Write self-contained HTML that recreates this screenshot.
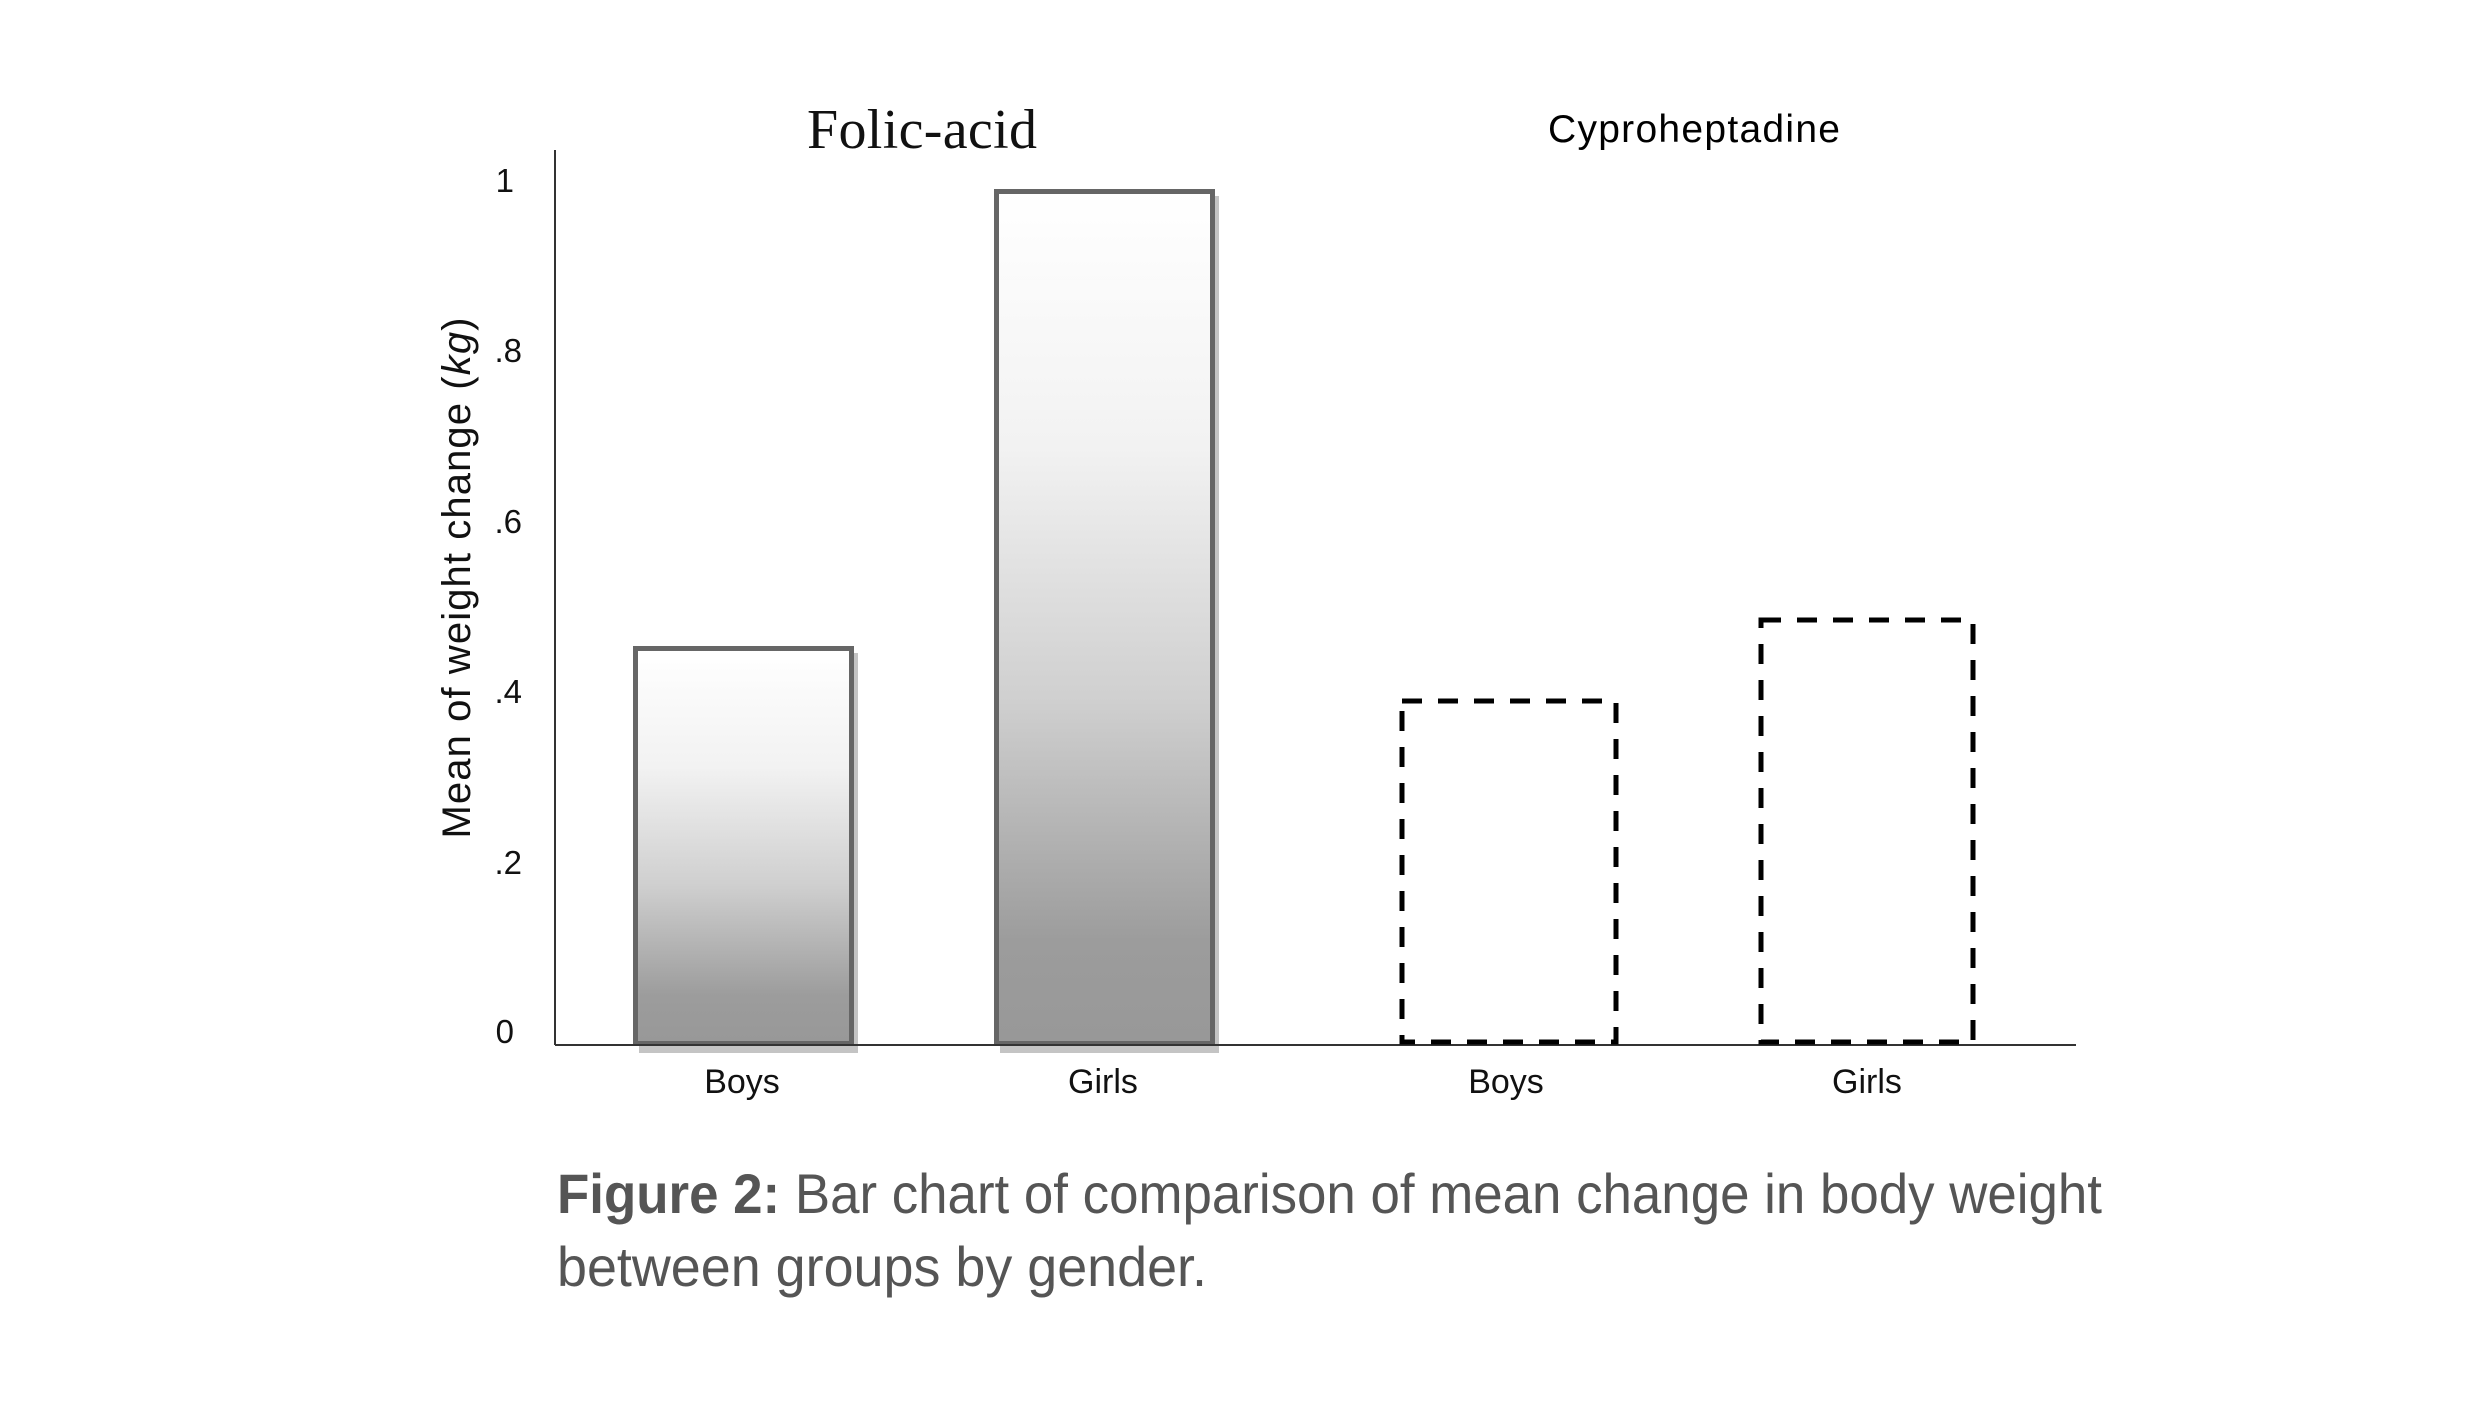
<!DOCTYPE html>
<html><head><meta charset="utf-8"><style>html,body{margin:0;padding:0;background:#fff;}svg{display:block}</style></head>
<body>
<svg width="2480" height="1417" viewBox="0 0 2480 1417" xmlns="http://www.w3.org/2000/svg">
<defs>
<linearGradient id="g" x1="0" y1="0" x2="0" y2="1">
<stop offset="0" stop-color="#ffffff"/>
<stop offset="0.3" stop-color="#f2f2f2"/>
<stop offset="0.6" stop-color="#cfcfcf"/>
<stop offset="0.88" stop-color="#9c9c9c"/>
<stop offset="1" stop-color="#989898"/>
</linearGradient>
</defs>
<rect width="2480" height="1417" fill="#fff"/>
<text x="922" y="148" font-family="Liberation Serif, serif" font-size="56" text-anchor="middle" fill="#111" textLength="230">Folic-acid</text>
<text x="1694" y="142" font-family="Liberation Sans, sans-serif" font-size="39" text-anchor="middle" fill="#000" textLength="292">Cyproheptadine</text>
<rect x="639" y="653" width="219" height="400" fill="#c4c4c4"/>
<rect x="1000" y="196" width="219" height="857" fill="#c4c4c4"/>
<rect x="635.5" y="648.5" width="216" height="395" fill="url(#g)" stroke="#666" stroke-width="5"/>
<rect x="996.5" y="191.5" width="216" height="852" fill="url(#g)" stroke="#666" stroke-width="5"/>
<line x1="555" y1="150" x2="555" y2="1045" stroke="#333" stroke-width="2"/>
<line x1="555" y1="1045" x2="2076" y2="1045" stroke="#333" stroke-width="2"/>
<g fill="none" stroke="#000" stroke-width="5" stroke-dasharray="20 16">
<rect x="1402" y="701" width="214" height="341"/>
<rect x="1761" y="620" width="212" height="422"/>
</g>
<g font-family="Liberation Sans, sans-serif" font-size="33" fill="#111" text-anchor="end">
<text x="514" y="192">1</text>
<text x="522" y="362">.8</text>
<text x="522" y="533">.6</text>
<text x="522" y="703">.4</text>
<text x="522" y="874">.2</text>
<text x="514" y="1043">0</text>
</g>
<text transform="translate(470,578) rotate(-90)" font-family="Liberation Sans, sans-serif" font-size="40" fill="#111" text-anchor="middle" textLength="521">Mean of weight change (<tspan font-style="italic">kg</tspan>)</text>
<g font-family="Liberation Sans, sans-serif" font-size="34" fill="#111" text-anchor="middle">
<text x="742" y="1093">Boys</text>
<text x="1103" y="1093">Girls</text>
<text x="1506" y="1093">Boys</text>
<text x="1867" y="1093">Girls</text>
</g>
<text x="557" y="1213" font-family="Liberation Sans, sans-serif" font-size="56" fill="#555" textLength="1545" lengthAdjust="spacingAndGlyphs"><tspan font-weight="bold">Figure 2:</tspan> Bar chart of comparison of mean change in body weight</text>
<text x="557" y="1286" font-family="Liberation Sans, sans-serif" font-size="56" fill="#555" textLength="650" lengthAdjust="spacingAndGlyphs">between groups by gender.</text>
</svg>
</body></html>
